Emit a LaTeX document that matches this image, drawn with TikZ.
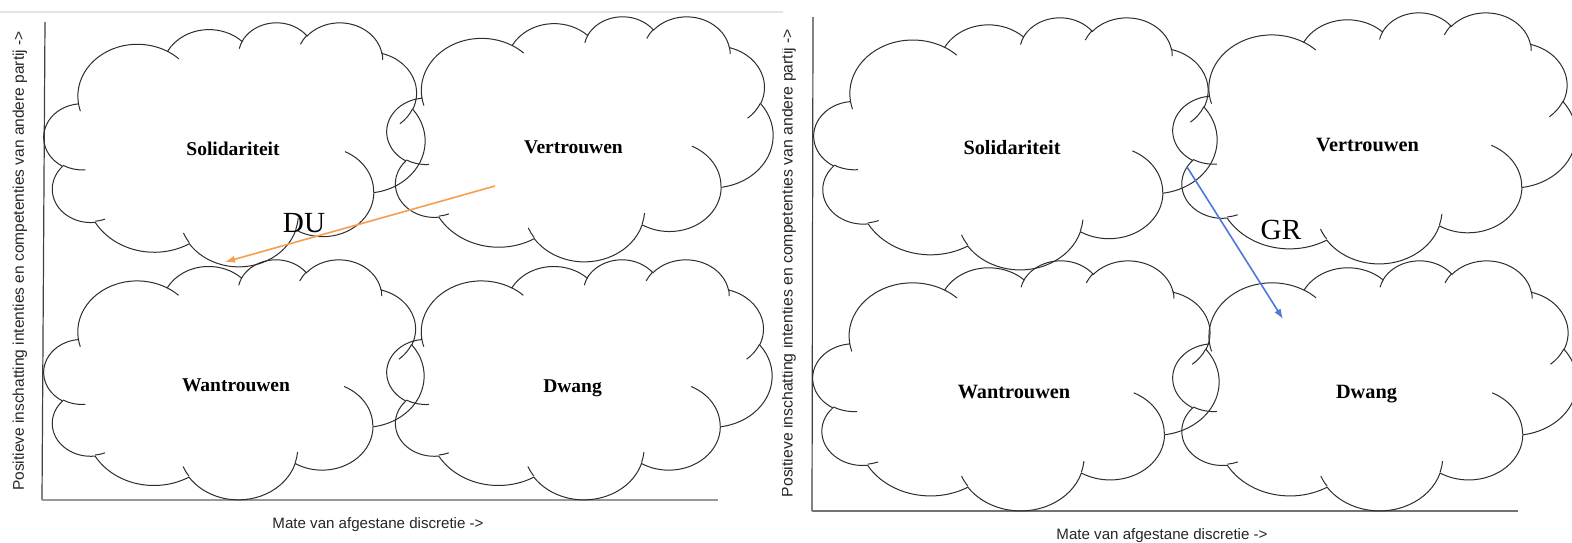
\documentclass[tikz,border=0pt]{standalone}
\usepackage{fontspec}
\setmainfont{Liberation Serif}
\newfontfamily\axfont{Liberation Sans}
\usetikzlibrary{arrows.meta}
\definecolor{duorange}{RGB}{246,158,78}
\definecolor{grblue}{RGB}{78,120,218}
\definecolor{cldcol}{RGB}{45,45,45}
\makeatletter
\newcommand\cldprep[5]{%
  \pgfmathsetmacro\cl@a{#4}%
  \pgfmathsetmacro\cl@b{(#4)+(#5)}%
  \pgfmathsetmacro\cl@ta{atan2((#2)*sin(\cl@a),(#3)*cos(\cl@a))}%
  \pgfmathsetmacro\cl@ta{(\cl@a)+mod((\cl@ta)-(\cl@a)+900,360)-180}%
  \pgfmathsetmacro\cl@tb{atan2((#2)*sin(\cl@b),(#3)*cos(\cl@b))}%
  \pgfmathsetmacro\cl@tb{(\cl@b)+mod((\cl@tb)-(\cl@b)+900,360)-180}%
  \expandafter\xdef\csname cls#1\endcsname{\cl@ta}%
  \expandafter\xdef\csname cle#1\endcsname{\cl@tb}%
}
\makeatother
% outline arcs
\cldprep{A}{67.53}{91.90}{-190.48748}{123.78053}
\cldprep{B}{53.33}{72.67}{-144.10238}{89.94523}
\cldprep{C}{43.65}{59.45}{-145.80792}{99.72302}
\cldprep{D}{48.57}{65.95}{-130.98607}{117.24173}
\cldprep{E}{53.33}{72.73}{-78.70888}{109.02692}
\cldprep{F}{67.75}{92.20}{-46.26725}{130.269}
\cldprep{G}{57.85}{78.67}{0.62502}{114.03333}
\cldprep{H}{67.52}{92.15}{22.4516}{115.17255}
\cldprep{I}{77.20}{105.43}{66.24263}{75.71102}
\cldprep{J}{43.60}{59.18}{-274.94208}{146.73557}
\cldprep{K}{43.45}{59.45}{-246.8285}{152.51885}
% inner arcs
\cldprep{a}{43.45}{59.45}{86.742}{26.4295}
\cldprep{b}{43.60}{59.18}{73.61047}{11.44747}
\cldprep{c}{67.52}{92.15}{137.62415}{14.0811}
\cldprep{d}{67.52}{92.15}{6.45327}{15.99835}
\cldprep{e}{57.85}{78.67}{-70.29235}{70.91737}
\cldprep{f}{53.33}{72.73}{30.31803}{27.7515}
\cldprep{g}{48.57}{65.95}{-13.74433}{14.8589}
\cldprep{h}{48.57}{65.95}{-149.18145}{18.19537}
\cldprep{i}{43.65}{59.45}{-163.49427}{17.68635}
\cldprep{j}{67.53}{91.90}{-66.70695}{12.31935}
\cldprep{k}{67.53}{91.90}{157.65435}{11.85817}

\newcommand\drawcloud[4]{%
  \pgfmathsetmacro\clx{(#3)*0.5/432}%
  \pgfmathsetmacro\cly{-(#4)*0.5/432}%
  \begin{scope}[shift={(#1,#2)},x=\clx pt,y=\cly pt]
    \draw[cloudline] (39,143.7)
      arc[start angle=\clsA,end angle=\cleA,x radius=67.53,y radius=91.90]
      arc[start angle=\clsB,end angle=\cleB,x radius=53.33,y radius=72.67]
      arc[start angle=\clsC,end angle=\cleC,x radius=43.65,y radius=59.45]
      arc[start angle=\clsD,end angle=\cleD,x radius=48.57,y radius=65.95]
      arc[start angle=\clsE,end angle=\cleE,x radius=53.33,y radius=72.73]
      arc[start angle=\clsF,end angle=\cleF,x radius=67.75,y radius=92.20]
      arc[start angle=\clsG,end angle=\cleG,x radius=57.85,y radius=78.67]
      arc[start angle=\clsH,end angle=\cleH,x radius=67.52,y radius=92.15]
      arc[start angle=\clsI,end angle=\cleI,x radius=77.20,y radius=105.43]
      arc[start angle=\clsJ,end angle=\cleJ,x radius=43.60,y radius=59.18]
      arc[start angle=\clsK,end angle=\cleK,x radius=43.45,y radius=59.45]
      -- cycle;
    \draw[cloudline]
      (46.93,261.77) arc[start angle=\clsa,end angle=\clea,x radius=43.45,y radius=59.45]
      (69.28,348.99) arc[start angle=\clsb,end angle=\cleb,x radius=43.60,y radius=59.18]
      (164.78,390.90) arc[start angle=\clsc,end angle=\clec,x radius=67.52,y radius=92.15]
      (288.27,347.51) arc[start angle=\clsd,end angle=\cled,x radius=67.52,y radius=92.15]
      (341.29,229.54) arc[start angle=\clse,end angle=\clee,x radius=57.85,y radius=78.67]
      (417.98,153.54) arc[start angle=\clsf,end angle=\clef,x radius=53.33,y radius=72.73]
      (383.24,54.26) arc[start angle=\clsg,end angle=\cleg,x radius=48.57,y radius=65.95]
      (290.78,39.52) arc[start angle=\clsh,end angle=\cleh,x radius=48.57,y radius=65.95]
      (221.41,47.20) arc[start angle=\clsi,end angle=\clei,x radius=43.65,y radius=59.45]
      (140.00,51.92) arc[start angle=\clsj,end angle=\clej,x radius=67.53,y radius=91.90]
      (41.27,157.89) arc[start angle=\clsk,end angle=\clek,x radius=67.53,y radius=91.90];
  \end{scope}}

\begin{document}
\begin{tikzpicture}[x=0.5pt,y=-0.5pt,
  cloudline/.style={draw=cldcol,line width=0.5pt},
  lblL/.style={font=\fontsize{9.75}{11}\selectfont\bfseries,anchor=base,inner sep=0pt},
  lblR/.style={font=\fontsize{10.15}{12}\selectfont\bfseries,anchor=base,inner sep=0pt},
  axlab/.style={font=\axfont\fontsize{7.55}{9}\selectfont,anchor=base,inner sep=0pt,text=black!85},
  biglab/.style={font=\fontsize{14.6}{16}\selectfont,anchor=base,inner sep=0pt},
  axisline/.style={draw=black!75,line width=0.6pt},
  baseline/.style={draw=black!40,line width=0.9pt},
  movearrow/.style={line width=0.8pt,-{Latex[length=5pt,width=3.6pt]}}]
\useasboundingbox (0,0) rectangle (1572,542);
\fill[white] (0,0) rectangle (1572,542);

% ---------- left panel ----------
\draw[black!10,line width=0.7pt] (0,12) -- (783,12);
\coordinate (lTop) at (45,22);
\coordinate (lOrig) at (42,500);
\coordinate (lEnd) at (718,500);
\draw[axisline] (lTop) -- (lOrig);
\draw[baseline] (lOrig) -- (lEnd);
\node[axlab,rotate=90,font=\axfont\fontsize{7.75}{9}\selectfont] (lYlab) at (24,261) {Positieve inschatting intenties en competenties van andere partij ->};
\node[axlab] (lXlab) at (378,528) {Mate van afgestane discretie ->};

\drawcloud{44}{22}{381}{244}
\drawcloud{387}{16}{386}{245}
\drawcloud{44}{259}{380}{240}
\drawcloud{387}{259}{385}{240}

\node[lblL] (solL) at (233,155) {Solidariteit};
\node[lblL] (verL) at (573.5,153) {Vertrouwen};
\node[lblL] (wanL) at (236,391) {Wantrouwen};
\node[lblL] (dwaL) at (572.5,392) {Dwang};

\coordinate (duS) at (495,186);
\coordinate (duE) at (225,262);
\draw[movearrow,duorange] (duS) -- (duE);
\node[biglab] (du) at (304,232) {DU};

% ---------- right panel ----------
\begin{scope}
\clip (782,0) rectangle (1572,542);
\coordinate (rTop) at (813,17);
\coordinate (rOrig) at (812,511);
\coordinate (rEnd) at (1518,511);
\draw[axisline] (rTop) -- (rOrig);
\draw[draw=black!55,line width=0.8pt] (rOrig) -- (rEnd);
\node[axlab,rotate=90,font=\axfont\fontsize{7.9}{9}\selectfont] (rYlab) at (792.5,263) {Positieve inschatting intenties en competenties van andere partij ->};
\node[axlab] (rXlab) at (1162,539) {Mate van afgestane discretie ->};

\drawcloud{814}{17}{403}{252}
\drawcloud{1173}{12}{403}{251}
\drawcloud{813}{260}{406}{250}
\drawcloud{1173}{260}{404}{250}

\node[lblR] (solR) at (1012,154) {Solidariteit};
\node[lblR] (verR) at (1367.5,151) {Vertrouwen};
\node[lblR] (wanR) at (1014,398) {Wantrouwen};
\node[lblR] (dwaR) at (1366.5,398) {Dwang};

\coordinate (grS) at (1187,167);
\coordinate (grE) at (1283,319);
\draw[movearrow,grblue] (grS) -- (grE);
\node[biglab] (gr) at (1281,239) {GR};
\end{scope}
\end{tikzpicture}
\end{document}
